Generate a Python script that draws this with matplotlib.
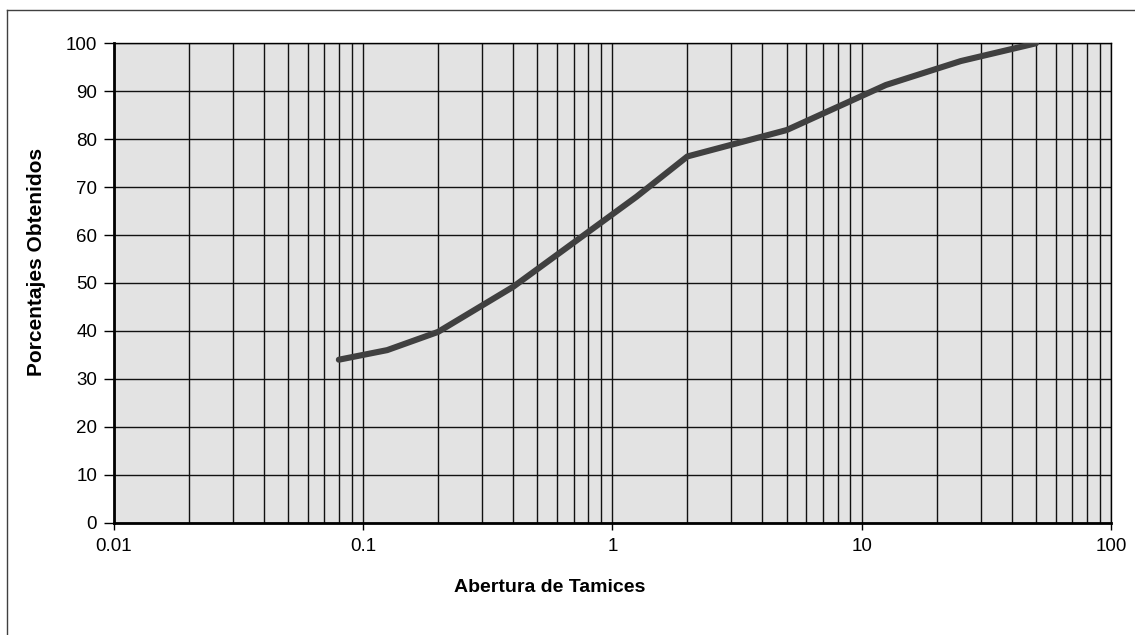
import matplotlib.pyplot as plt
from matplotlib.lines import Line2D
from matplotlib.ticker import FixedLocator, LogLocator, NullFormatter

plt.rcParams["font.family"] = ["Liberation Sans", "DejaVu Sans"]

# sieve opening (mm) and percentage passing
abertura = [0.08, 0.125, 0.2, 0.4, 1.25, 2.0, 5.0, 12.5, 25.0, 50.0]
porcentaje = [34.0, 36.0, 39.8, 49.2, 68.0, 76.4, 81.9, 91.3, 96.3, 100.0]

x_ticks = [0.01, 0.1, 1, 10, 100]
x_tick_labels = ["0.01", "0.1", "1", "10", "100"]
y_ticks = list(range(0, 101, 10))

W, H = 1135, 635
fig = plt.figure(figsize=(W / 100, H / 100), dpi=100)
left, right, top, bottom = 113.7, 1111.0, 43.3, 522.7
ax = fig.add_axes([left / W, 1 - bottom / H, (right - left) / W, (bottom - top) / H])
ax.set_facecolor("#e3e3e3")

ax.plot(abertura, porcentaje, "-", color="#404040", linewidth=4.4,
        solid_capstyle="round", solid_joinstyle="round", zorder=5)

ax.set_xscale("log")
ax.set_xlim(0.01, 100)
ax.set_ylim(0, 100)

ax.xaxis.set_major_locator(FixedLocator(x_ticks))
ax.set_xticklabels(x_tick_labels)
ax.xaxis.set_minor_locator(LogLocator(base=10, subs=range(2, 10), numticks=20))
ax.xaxis.set_minor_formatter(NullFormatter())
ax.set_yticks(y_ticks)

ax.grid(True, which="both", axis="x", color="#111111", linewidth=1.0)
ax.grid(True, which="major", axis="y", color="#111111", linewidth=1.0)

ax.tick_params(axis="x", which="major", direction="out", length=5, width=1,
               labelsize=13.5, pad=6, color="black")
ax.tick_params(axis="x", which="minor", length=0)
ax.tick_params(axis="y", direction="out", length=7, width=1,
               labelsize=13.5, pad=5, color="black")

for side in ("left", "bottom"):
    ax.spines[side].set_linewidth(2)
    ax.spines[side].set_color("black")
for side in ("top", "right"):
    ax.spines[side].set_linewidth(1)
    ax.spines[side].set_color("black")

fig.text(550 / W, 1 - 588 / H, "Abertura de Tamices", ha="center", va="center",
         fontsize=14, fontweight="bold")
fig.text(37 / W, 1 - 262 / H, "Porcentajes Obtenidos", ha="center", va="center",
         rotation=90, fontsize=15, fontweight="bold")

# outer chart frame (left and top edges visible)
fig.add_artist(Line2D([7 / W, 7 / W], [0, 1 - 10 / H], transform=fig.transFigure,
                      color="#404040", linewidth=1))
fig.add_artist(Line2D([7 / W, 1], [1 - 10 / H, 1 - 10 / H], transform=fig.transFigure,
                      color="#404040", linewidth=1))

fig.savefig("out.png", dpi=100)
